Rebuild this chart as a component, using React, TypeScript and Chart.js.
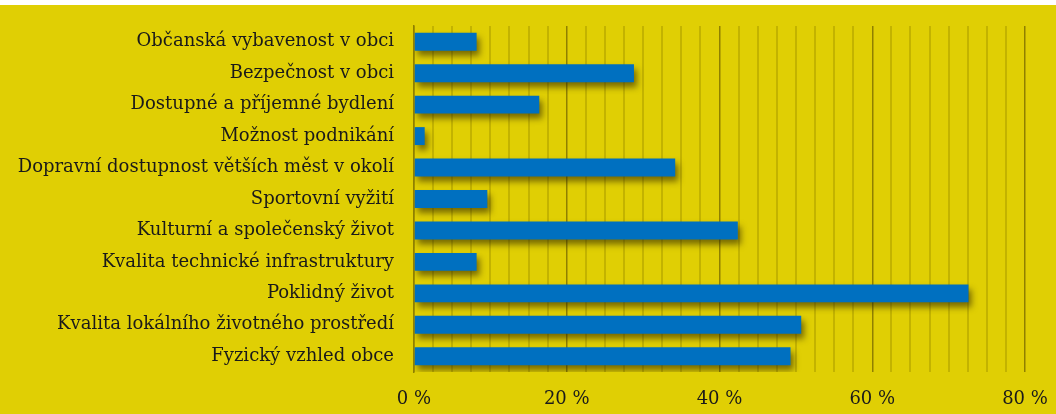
import React, { useEffect, useRef } from "react";
import { Chart, registerables } from "chart.js";

Chart.register(...registerables);

const categories: string[] = [
  "Občanská vybavenost v obci",
  "Bezpečnost v obci",
  "Dostupné a příjemné bydlení",
  "Možnost podnikání",
  "Dopravní dostupnost větších měst v okolí",
  "Sportovní vyžití",
  "Kulturní a společenský život",
  "Kvalita technické infrastruktury",
  "Poklidný život",
  "Kvalita lokálního životného prostředí",
  "Fyzický vzhled obce",
];

const values: number[] = [8.2, 28.8, 16.4, 1.4, 34.2, 9.6, 42.4, 8.2, 72.6, 50.7, 49.3];

const xTickLabels: number[] = [0, 20, 40, 60, 80];

const FONT = "'DejaVu Serif', serif";

const shadowPlugin = {
  id: "barShadow",
  beforeDatasetDraw(chart: any) {
    const ctx = chart.ctx;
    ctx.save();
    ctx.shadowColor = "rgba(50,40,0,0.6)";
    ctx.shadowOffsetX = 3;
    ctx.shadowOffsetY = 5;
    ctx.shadowBlur = 6;
  },
  afterDatasetDraw(chart: any) {
    chart.ctx.restore();
  },
};

export default function App() {
  const ref = useRef<HTMLCanvasElement | null>(null);
  useEffect(() => {
    if (!ref.current) return;
    const chart = new Chart(ref.current, {
      type: "bar",
      data: {
        labels: categories,
        datasets: [
          {
            data: values,
            backgroundColor: "#0070c0",
            borderWidth: 0,
            barPercentage: 0.57,
            categoryPercentage: 1,
          },
        ],
      },
      plugins: [shadowPlugin],
      options: {
        indexAxis: "y",
        animation: false,
        responsive: false,
        maintainAspectRatio: false,
        layout: { padding: { left: 0, right: 31, top: 21, bottom: 0 } },
        plugins: { legend: { display: false }, tooltip: { enabled: false } },
        scales: {
          x: {
            min: 0,
            max: 80,
            ticks: {
              stepSize: 2.5,
              autoSkip: false,
              maxRotation: 0,
              color: "#1a1a1a",
              font: { family: FONT, size: 18 },
              padding: 17,
              callback: (v: any) => (xTickLabels.includes(Number(v)) ? `${v} %` : ""),
            },
            grid: {
              drawTicks: false,
              color: (c: any) => (c.tick && Math.abs(c.tick.value % 20) < 1e-6 ? "#8f8000" : "#c3b300"),
              lineWidth: (c: any) => (c.tick && Math.abs(c.tick.value % 20) < 1e-6 ? 1.5 : 2),
            },
            border: { display: false },
            afterFit: (s: any) => {
              s.height = 42;
              s.paddingLeft = 0;
              s.paddingRight = 0;
            },
          },
          y: {
            ticks: {
              color: "#1a1a1a",
              font: { family: FONT, size: 18 },
              padding: 20,
              autoSkip: false,
            },
            grid: { display: false, drawTicks: false },
            border: { display: true, color: "#8f8000", width: 1.5 },
            afterFit: (s: any) => {
              s.width = 414;
              s.paddingTop = 0;
              s.paddingBottom = 0;
            },
          },
        },
      },
    });
    return () => chart.destroy();
  }, []);

  return (
    <div
      style={{
        position: "absolute",
        top: 5,
        left: 0,
        width: 1056,
        height: 409,
        background: "#e0cf04",
      }}
    >
      <canvas ref={ref} width={1056} height={409} style={{ display: "block" }} />
    </div>
  );
}
